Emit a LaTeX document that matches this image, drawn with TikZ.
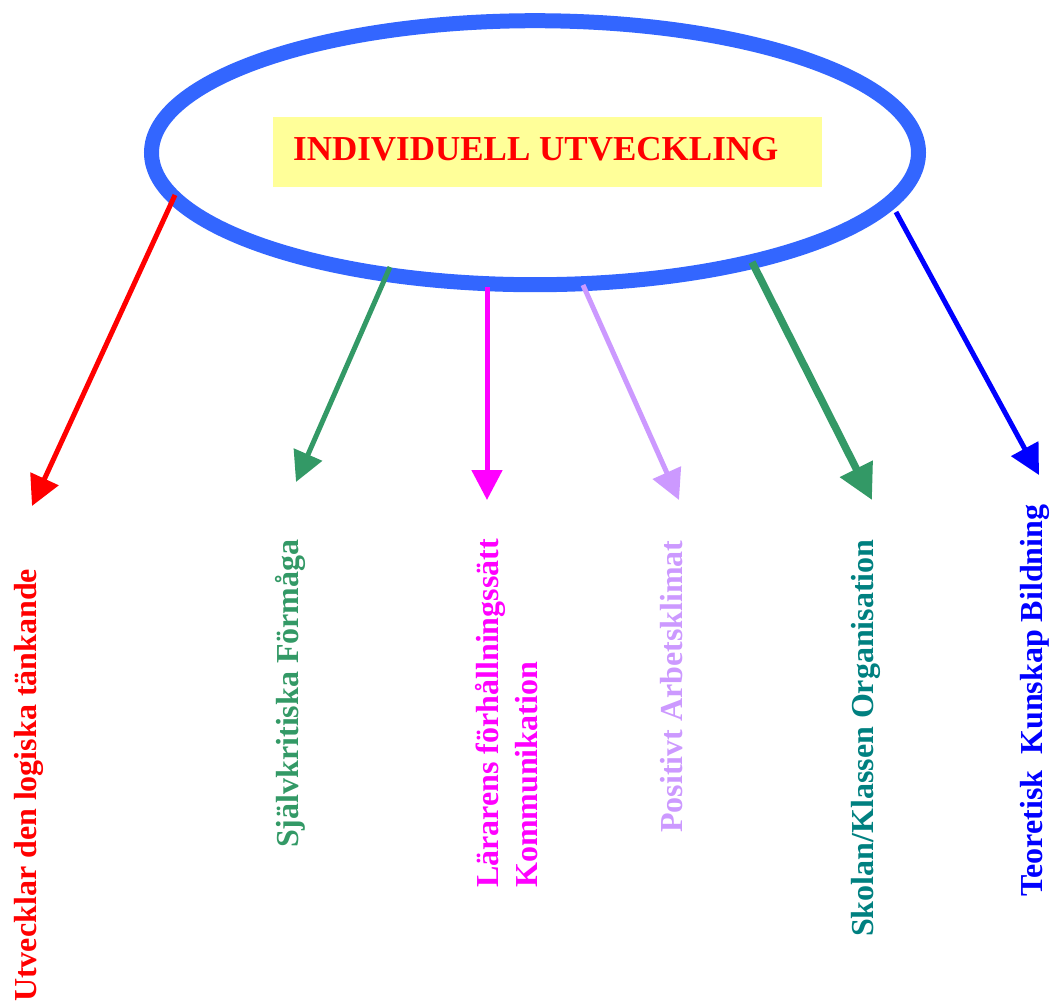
\documentclass[tikz,border=0pt]{standalone}
\usepackage{fontspec}
\setmainfont{Liberation Serif}
\usetikzlibrary{arrows.meta,shapes.geometric}
\definecolor{ellblue}{HTML}{3366FF}
\definecolor{boxyellow}{HTML}{FFFF99}
\definecolor{sgreen}{HTML}{339966}
\definecolor{lav}{HTML}{CC99FF}
\definecolor{tealc}{HTML}{008080}
\definecolor{pureblue}{HTML}{0000FF}
\definecolor{purered}{HTML}{FF0000}
\definecolor{puremag}{HTML}{FF00FF}
\begin{document}
\begin{tikzpicture}[x=1pt,y=-1pt,
  lbl/.style={rotate=90, anchor=base west, inner sep=0pt, font=\bfseries\fontsize{32}{39}\selectfont},
  arr/.style={-{Triangle[length=30pt,width=30pt]}, line width=5pt},
  bigarr/.style={-{Triangle[length=35pt,width=35pt]}, line width=7.5pt},
]
\useasboundingbox (0,0) rectangle (1050,1005);
\node[ellipse, draw=ellblue, line width=15pt, minimum width=767pt, minimum height=264pt, inner sep=0pt, outer sep=0pt] (ell) at (535,152.7) {};
\node[fill=boxyellow, minimum width=549pt, minimum height=70pt, inner sep=0pt] (box) at (547.5,152) {};
\node[anchor=base west, inner sep=0pt, text=purered, font=\bfseries\fontsize{35}{42}\selectfont] (title) at (293,160) {INDIVIDUELL UTVECKLING};

\coordinate (s1) at (175,195);
\coordinate (s2) at (390,267);
\coordinate (s3) at (487,287);
\coordinate (s4) at (583,285);
\coordinate (s5) at (752,262);
\coordinate (s6) at (896,212);

\coordinate (t1) at (32,506);
\coordinate (t2) at (296,482);
\coordinate (t3) at (487,500);
\coordinate (t4) at (679,500);
\coordinate (t5) at (872,500);
\coordinate (t6) at (1039,475);

\draw[arr, purered] (s1) -- (t1);
\draw[arr, sgreen] (s2) -- (t2);
\draw[arr, puremag] (s3) -- (t3);
\draw[arr, lav] (s4) -- (t4);
\draw[bigarr, sgreen] (s5) -- (t5);
\draw[arr, pureblue] (s6) -- (t6);

\node[lbl, text=purered] (l1) at (36,1002) {Utvecklar den logiska tänkande};
\node[lbl, text=sgreen] (l2) at (298,848) {Självkritiska Förmåga};
\node[lbl, text=puremag] (l3a) at (498,888) {Lärarens förhållningssätt};
\node[lbl, text=puremag] (l3b) at (537,888) {Kommunikation};
\node[lbl, text=lav] (l4) at (682,833) {Positivt Arbetsklimat};
\node[lbl, text=tealc] (l5) at (873,937) {Skolan/Klassen Organisation};
\node[lbl, text=pureblue] (l6) at (1042,897) {Teoretisk\ \ Kunskap Bildning};
\end{tikzpicture}
\end{document}
